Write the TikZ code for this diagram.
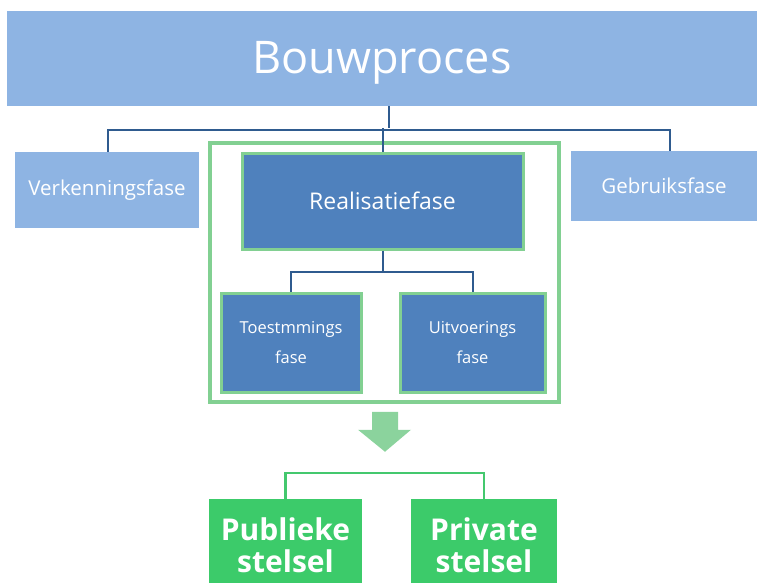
\documentclass[tikz,border=0pt]{standalone}
\usepackage{fontspec}
\setmainfont{Open Sans}
\usetikzlibrary{shadows}
\definecolor{lightblue}{HTML}{8EB4E3}
\definecolor{midblue}{HTML}{4F81BD}
\definecolor{lineblue}{HTML}{2F5B8F}
\definecolor{frameGreen}{HTML}{82D092}
\definecolor{arrowGreen}{HTML}{8BD39D}
\definecolor{boxGreen}{HTML}{3CCB6A}
\definecolor{linkGreen}{HTML}{44C86E}
\tikzset{
  lbox/.style={fill=lightblue, draw=none, text=white, inner sep=0pt,
    font=\fontsize{20.5}{24}\selectfont},
  dbox/.style={fill=midblue, draw=frameGreen, line width=3pt, text=white,
    inner sep=0pt, align=center, font=\fontsize{16.5}{30}\selectfont},
  gbox/.style={fill=boxGreen, draw=none, text=white, inner sep=0pt,
    align=center, font=\fontsize{30}{32}\selectfont\bfseries},
  bline/.style={draw=lineblue, line width=2pt},
  gline/.style={draw=linkGreen, line width=2.2pt},
  kader/.style={draw=frameGreen, fill=white, line width=3.5pt,
    drop shadow={shadow xshift=1.5pt, shadow yshift=-1.5pt, opacity=0.25}}
}
\begin{document}
\begin{tikzpicture}[x=1pt, y=-1pt]
\useasboundingbox (0,0) rectangle (757,582);

% top level (title set slightly below the box centre)
\node[lbox, minimum width=750, minimum height=95,
      label={[yshift=-4pt, text=white, font=\fontsize{45}{50}\selectfont]center:Bouwproces}]
      (bouw) at (382,58.5) {};
\node[lbox, minimum width=184, minimum height=76] (verk) at (107,190) {Verkenningsfase};
\node[lbox, minimum width=186, minimum height=70] (gebr) at (664,186) {Gebruiksfase};

% frame around the realisation phase
\node[kader, minimum width=349, minimum height=259] (frame) at (384.5,272.5) {};

% realisation phase and its sub-phases
\node[dbox, minimum width=281, minimum height=96,
      font=\fontsize{23}{27}\selectfont] (real) at (382.5,201) {Realisatiefase};
\node[dbox, minimum width=140, minimum height=99] (toets) at (291,342.5) {Toestmmings\\fase};
\node[dbox, minimum width=145, minimum height=99] (uitv) at (472.5,342.5) {Uitvoerings\\fase};

% tree connectors
\coordinate (hub) at ([xshift=7pt]bouw.south |- 0,128);
\draw[bline] ([xshift=7pt]bouw.south) -- (hub);
\draw[bline] ([xshift=1pt]verk.north) -- ++(0,-22) -| ([xshift=6pt]gebr.north);
\draw[bline] (real.north |- hub) -- (real.north);
\draw[bline] (real.south) -- ++(0,21) -| (uitv.north);
\draw[bline] (real.south) ++(0,21) -| (toets.north);

% downward block arrow
\fill[arrowGreen] ([xshift=-12.5pt,yshift=-8pt]frame.south) -- ++(26,0) -- ++(0,18)
  -- ++(13,0) -- ++(-26,22) -- ++(-27,-22) -- ++(14,0) -- cycle;

% systems
\node[gbox, minimum width=153, minimum height=92] (pub) at (285.5,545) {Publieke\\stelsel};
\node[gbox, minimum width=146, minimum height=92] (priv) at (484,545) {Private\\stelsel};
\draw[gline] (pub.north) -- ++(0,-26) -| (priv.north);
\end{tikzpicture}
\end{document}
